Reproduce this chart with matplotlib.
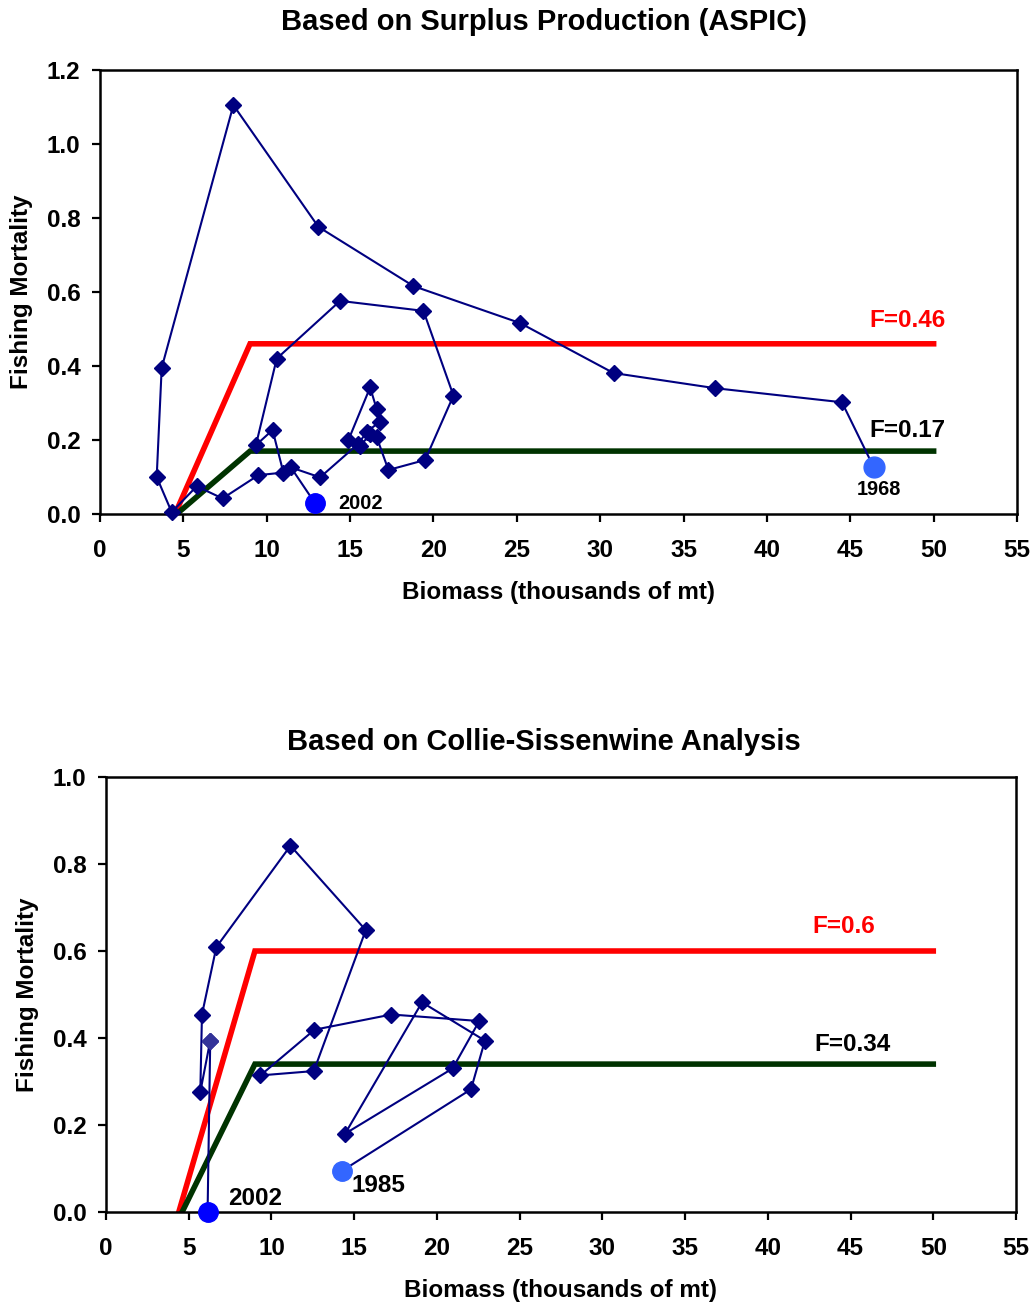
import matplotlib
matplotlib.use("Agg")
import matplotlib.pyplot as plt

plt.rcParams['font.family'] = ['Liberation Sans', 'DejaVu Sans']
plt.rcParams['font.weight'] = 'bold'

# ---- Top chart: ASPIC (1968 -> 2002) ----
aspic_biomass = [46.4, 44.5, 36.9, 30.8, 25.2, 18.8, 13.1, 8.0, 3.7, 3.4, 4.3,
                 5.8, 7.35, 9.5, 11.0, 10.35, 9.35, 10.6, 14.4, 19.4, 21.2,
                 19.5, 17.3, 16.6, 16.2, 15.6, 14.9, 16.2, 16.6, 16.8, 16.0,
                 15.5, 13.2, 11.45, 12.9]
aspic_f = [0.127, 0.302, 0.340, 0.381, 0.516, 0.616, 0.776, 1.105, 0.395, 0.100,
           0.005, 0.075, 0.042, 0.105, 0.112, 0.227, 0.186, 0.420, 0.576, 0.549,
           0.320, 0.146, 0.119, 0.207, 0.215, 0.184, 0.200, 0.342, 0.283, 0.250,
           0.222, 0.190, 0.099, 0.126, 0.029]
aspic_ref_x = [4.5, 9.0, 50.0]
aspic_fmsy = [0.0, 0.46, 0.46]
aspic_green_x = [4.6, 9.0, 50.0]
aspic_ftarget = [0.0, 0.17, 0.17]

# ---- Bottom chart: Collie-Sissenwine (1985 -> 2002) ----
cs_biomass = [14.24, 22.06, 22.9, 19.1, 14.45, 20.95, 22.56, 17.25, 12.6, 9.33,
              12.56, 15.7, 11.15, 6.67, 5.8, 5.7, 6.3, 6.14]
cs_f = [0.094, 0.282, 0.394, 0.482, 0.180, 0.330, 0.439, 0.454, 0.419, 0.314,
        0.324, 0.648, 0.842, 0.609, 0.454, 0.276, 0.394, 0.0]
cs_ref_x = [4.4, 9.0, 50.0]
cs_fmsy = [0.0, 0.60, 0.60]
cs_green_x = [4.6, 9.0, 50.0]
cs_ftarget = [0.0, 0.34, 0.34]

xticks = list(range(0, 60, 5))

NAVY = '#000080'
RED = '#FF0000'
GREEN = '#003300'

fig = plt.figure(figsize=(10.34, 13.06), dpi=100)
W, H = 1034, 1306

def make_axes(l, t, r, b):
    return fig.add_axes([l / W, 1 - b / H, (r - l) / W, (b - t) / H])

def style(ax, ymax, yticks):
    ax.set_xlim(0, 55)
    ax.set_ylim(0, ymax)
    ax.set_xticks(xticks)
    ax.set_yticks(yticks)
    ax.set_yticklabels([f"{v:.1f}" for v in yticks])
    ax.tick_params(direction='out', length=6, width=1.6, labelsize=17.5, pad=8)
    ax.tick_params(axis='x', pad=12)
    for s in ax.spines.values():
        s.set_linewidth(1.8)
    for lab in ax.get_xticklabels() + ax.get_yticklabels():
        lab.set_fontweight('bold')
    ax.set_xlabel('Biomass (thousands of mt)', fontsize=17.5, fontweight='bold', labelpad=14)
    ax.set_ylabel('Fishing Mortality', fontsize=17.5, fontweight='bold', labelpad=10)

# Top
ax1 = make_axes(100, 70, 1017, 514)
ax1.plot(aspic_ref_x, aspic_fmsy, color=RED, lw=4, zorder=2, solid_joinstyle='miter')
ax1.plot(aspic_green_x, aspic_ftarget, color=GREEN, lw=4, zorder=2, solid_joinstyle='miter')
ax1.plot(aspic_biomass, aspic_f, color=NAVY, lw=1.5, marker='D', ms=8, zorder=3, clip_on=False)
ax1.plot(aspic_biomass[0], aspic_f[0], 'o', color='#3366FF', ms=15, zorder=4, clip_on=False)
ax1.plot(aspic_biomass[-1], aspic_f[-1], 'o', color='#0000FF', ms=14, zorder=4, clip_on=False)
ax1.text(50.7, 0.522, 'F=0.46', color=RED, fontsize=17.5, fontweight='bold', ha='right', va='center')
ax1.text(50.7, 0.227, 'F=0.17', color='black', fontsize=17.5, fontweight='bold', ha='right', va='center')
ax1.text(46.7, 0.065, '1968', fontsize=14.4, fontweight='bold', ha='center', va='center')
ax1.text(14.3, 0.028, '2002', fontsize=14.4, fontweight='bold', ha='left', va='center')
style(ax1, 1.2, [0.0, 0.2, 0.4, 0.6, 0.8, 1.0, 1.2])
fig.text(544 / W, 1 - 22 / H, 'Based on Surplus Production (ASPIC)', fontsize=21,
         fontweight='bold', ha='center', va='center')

# Bottom
ax2 = make_axes(106, 777, 1016, 1212)
ax2.plot(cs_ref_x, cs_fmsy, color=RED, lw=4, zorder=2, solid_joinstyle='miter')
ax2.plot(cs_green_x, cs_ftarget, color=GREEN, lw=4, zorder=2, solid_joinstyle='miter')
ax2.plot(cs_biomass, cs_f, color=NAVY, lw=1.5, marker='D', ms=8, zorder=3, clip_on=False)
ax2.plot(cs_biomass[-2], cs_f[-2], 'D', color='#333399', ms=8, zorder=3.5)
ax2.plot(cs_biomass[0], cs_f[0], 'o', color='#3366FF', ms=14, zorder=4, clip_on=False)
ax2.plot(cs_biomass[-1], cs_f[-1], 'o', color='#0000FF', ms=14, zorder=4, clip_on=False)
ax2.text(46.5, 0.656, 'F=0.6', color=RED, fontsize=17.5, fontweight='bold', ha='right', va='center')
ax2.text(47.4, 0.385, 'F=0.34', color='black', fontsize=17.5, fontweight='bold', ha='right', va='center')
ax2.text(7.4, 0.032, '2002', fontsize=17.5, fontweight='bold', ha='left', va='center')
ax2.text(14.85, 0.062, '1985', fontsize=17.5, fontweight='bold', ha='left', va='center')
style(ax2, 1.0, [0.0, 0.2, 0.4, 0.6, 0.8, 1.0])
fig.text(544 / W, 1 - 742 / H, 'Based on Collie-Sissenwine Analysis', fontsize=21,
         fontweight='bold', ha='center', va='center')

fig.savefig('out.png', dpi=100)
